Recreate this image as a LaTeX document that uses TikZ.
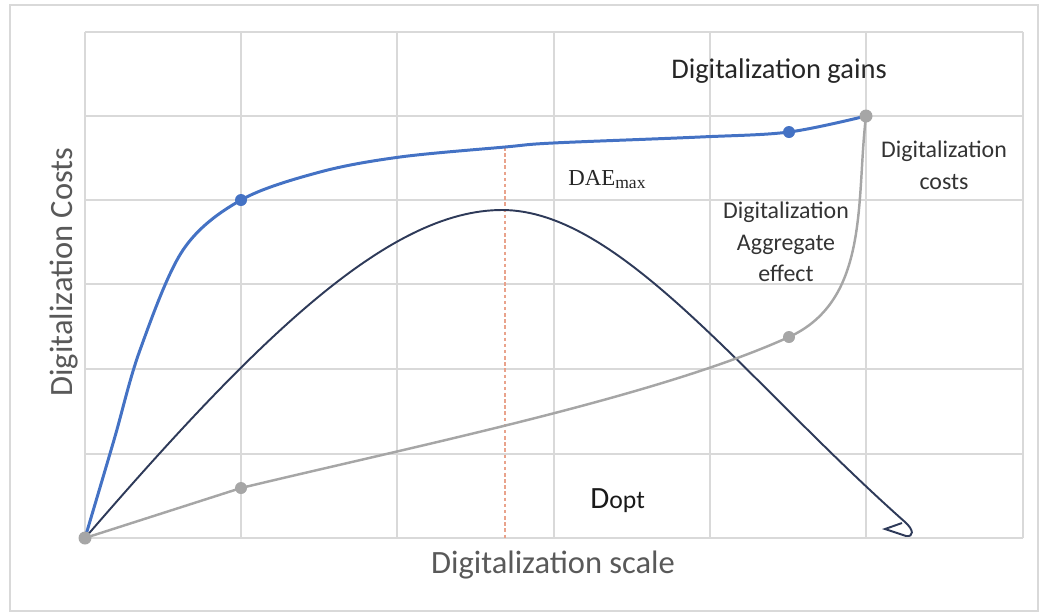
\documentclass[tikz,border=0pt]{standalone}
\usepackage{fontspec}
\setmainfont{Carlito}
\newfontfamily\serifface{Liberation Serif}
\usepackage{xcolor}
\usepackage{tikz}

\definecolor{gainblue}{HTML}{4472C4}
\definecolor{costgray}{HTML}{A6A6A6}
\definecolor{daenavy}{HTML}{2E3A59}
\definecolor{gridgray}{HTML}{D9D9D9}
\definecolor{axisgray}{HTML}{595959}
\definecolor{labelgray}{HTML}{333333}
\definecolor{optred}{HTML}{E9A38C}

\begin{document}
\begin{tikzpicture}[scale=0.2,
  gridline/.style={gridgray, line width=0.8pt},
  gaincurve/.style={gainblue, line width=1.7pt},
  costcurve/.style={costgray, line width=1.4pt},
  daecurve/.style={daenavy, line width=1.1pt},
  optline/.style={optred, line width=0.6pt, dash pattern=on 2pt off 1.5pt},
  axislabel/.style={axisgray, font=\fontsize{18.5}{22}\selectfont},
  curvelabel/.style={labelgray, align=center, font=\fontsize{13.6}{18}\selectfont}]
\tikzstyle{every node}+=[inner sep=0pt]
\useasboundingbox (0,0) rectangle (104.8,-61.2);
\draw [gridgray, line width=0.6pt] (1.0,-0.5) rectangle (103.8,-61.1);
% grid
\draw [gridline] (8.5,-3.2) -- (8.5,-53.8);
\draw [gridline] (24.1,-3.2) -- (24.1,-53.8);
\draw [gridline] (39.7,-3.2) -- (39.7,-53.8);
\draw [gridline] (55.4,-3.2) -- (55.4,-53.8);
\draw [gridline] (71.0,-3.2) -- (71.0,-53.8);
\draw [gridline] (86.6,-3.2) -- (86.6,-53.8);
\draw [gridline] (102.3,-3.2) -- (102.3,-53.8);
\draw [gridline] (8.5,-3.2) -- (102.3,-3.2);
\draw [gridline] (8.5,-11.6) -- (102.3,-11.6);
\draw [gridline] (8.5,-20.0) -- (102.3,-20.0);
\draw [gridline] (8.5,-28.4) -- (102.3,-28.4);
\draw [gridline] (8.5,-36.9) -- (102.3,-36.9);
\draw [gridline] (8.5,-45.4) -- (102.3,-45.4);
\draw [gridline] (8.5,-53.8) -- (102.3,-53.8);
% markers
\coordinate (origin) at (8.5,-53.8);
\coordinate (gainA) at (24.1,-20.0);
\coordinate (gainB) at (78.9,-13.2);
\coordinate (costA) at (24.1,-48.8);
\coordinate (costB) at (78.9,-33.7);
\coordinate (top) at (86.6,-11.6);
\coordinate (peak) at (50.2,-21.0);
\coordinate (tail) at (90.5,-52.2);
\coordinate (daeTop) at (50.5,-14.7);
\coordinate (daeFoot) at (50.5,-53.8);
\draw [optline] (daeTop) -- (daeFoot);
% gains
\draw [gaincurve] plot [smooth, tension=0.55] coordinates {(origin) (11.4,-44.0) (14.0,-35.0) (18.3,-25.0) (gainA) (32.0,-17.2) (40.0,-15.7) (50.5,-14.7) (55.3,-14.3) (70.0,-13.7) (gainB) (top)};
% aggregate effect
\draw [daecurve] (origin) .. controls (26.0,-33.5) and (39.0,-21.0) .. (peak)
  .. controls (62.0,-21.0) and (74.5,-38.0) .. (tail)
  .. controls (91.4,-53.0) and (91.4,-53.7) .. (90.6,-53.6) -- (88.5,-52.9) -- (90.2,-52.3);
% costs
\draw [costcurve] (origin) -- (costA) .. controls (42.0,-44.5) and (65.9,-39.6) .. (costB)
  .. controls (87.0,-30.0) and (85.6,-20.0) .. (top);
\fill [gainblue] (gainA) circle (0.6);
\fill [gainblue] (gainB) circle (0.6);
\fill [costgray] (costA) circle (0.6);
\fill [costgray] (costB) circle (0.6);
\fill [costgray] (origin) circle (0.65);
\fill [costgray] (top) circle (0.65);
% labels
\node (gains) [anchor=base, black!85, font=\fontsize{16.2}{19}\selectfont] at (77.9,-7.8) {Digitalization gains};
\node (costs) [curvelabel] at (94.4,-16.5) {Digitalization\\costs};
\node (effect) [curvelabel] at (78.6,-24.2) {Digitalization\\Aggregate\\effect};
\node (dae) [anchor=base west, black!85] at (56.8,-18.5) {\serifface\fontsize{13}{15}\selectfont DAE\raisebox{-2pt}{\fontsize{10}{12}\selectfont max}};
\node (dopt) [anchor=base west, black!90] at (59.0,-50.8) {\fontsize{17.6}{20}\selectfont D\fontsize{14.6}{17}\selectfont opt};
\node (xtitle) [axislabel, anchor=base] at (55.3,-57.3) {Digitalization scale};
\node (ytitle) [axislabel, anchor=base, rotate=90] at (7.2,-27.2) {Digitalization Costs};
\end{tikzpicture}
\end{document}
